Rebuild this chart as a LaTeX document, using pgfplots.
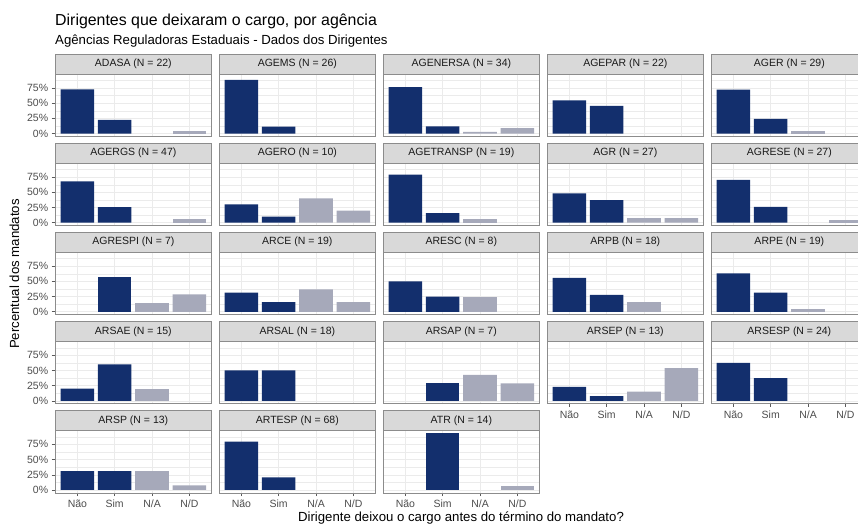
\documentclass[border=0pt]{standalone}
\usepackage{fontspec}
\setmainfont{Liberation Sans}
\usepackage{pgfplots}
\pgfplotsset{compat=1.18}
\definecolor{navy}{RGB}{19,47,109}
\definecolor{gry}{RGB}{166,169,186}
\definecolor{gridc}{RGB}{235,235,235}
\definecolor{borderc}{RGB}{140,140,140}
\definecolor{stripc}{RGB}{217,217,217}
\definecolor{striptc}{RGB}{26,26,26}
\definecolor{tickc}{RGB}{77,77,77}
\definecolor{tickmc}{RGB}{90,90,90}
\pgfplotsset{
  every axis title shift=0pt,
  panel/.style={scale only axis, width=156.7pt, height=62.1pt, anchor=south west,
    xmin=0.4, xmax=4.6, ymin=-4.65, ymax=97.5,
    xtick={1,2,3,4}, ytick={0,25,50,75}, minor ytick={12.5,37.5,62.5,87.5},
    grid=both, major grid style={line width=0.55pt, color=gridc},
    minor grid style={line width=0.3pt, color=gridc},
    axis line style={draw=borderc, line width=0.6pt},
    tick align=outside, tick pos=left, major tick length=3.3pt, minor tick length=0pt,
    xticklabels={}, yticklabels={},
    xtick style={draw=none}, ytick style={draw=none},
    tick label style={font=\fontsize{10.5}{11}\selectfont, text=tickc},
    title style={at={(0.5,1)}, anchor=south, yshift=0pt, fill=stripc, draw=borderc,
      line width=0.6pt, minimum width=156.7pt, minimum height=20pt, inner sep=0pt,
      font=\fontsize{10.5}{11}\selectfont, text=striptc},
  },
  showx/.style={xticklabels={Não,Sim,N/A,N/D}, xtick style={draw=tickmc, line width=0.55pt}},
  showy/.style={yticklabels={0\%,25\%,50\%,75\%}, ytick style={draw=tickmc, line width=0.55pt}},
}
% #1 x, #2 y, #3 title, #4 Nao, #5 Sim, #6 N/A, #7 N/D, #8 extra options
\newcommand{\panel}[8]{%
\begin{axis}[panel, at={(#1pt,#2pt)}, title={#3}, #8]
\addplot[ybar, bar width=0.9, fill=navy, draw=none, restrict y to domain=0.01:200] coordinates {(1,#4) (2,#5)};
\addplot[ybar, bar width=0.9, fill=gry, draw=none, restrict y to domain=0.01:200] coordinates {(3,#6) (4,#7)};
\end{axis}}
\begin{document}
\begin{tikzpicture}
\path[use as bounding box] (0,0) rectangle (858pt,524pt);
\clip (0,0) rectangle (858pt,524pt);
\node[anchor=base west, inner sep=0pt, font=\fontsize{15.9}{18}\selectfont] at (55pt,498pt) {Dirigentes que deixaram o cargo, por agência};
\node[anchor=base west, inner sep=0pt, font=\fontsize{13.2}{15}\selectfont] at (55pt,479pt) {Agências Reguladoras Estaduais - Dados dos Dirigentes};
\node[anchor=base, inner sep=0pt, font=\fontsize{13.2}{15}\selectfont] at (461pt,3pt) {Dirigente deixou o cargo antes do término do mandato?};
\node[anchor=base, rotate=90, inner sep=0pt, font=\fontsize{13.2}{15}\selectfont] at (19pt,250pt) {Percentual dos mandatos};
% Row 1
\panel{55}{387.6}{ADASA (N = 22)}{72.7}{22.7}{0}{4.5}{showy}
\panel{219}{387.6}{AGEMS (N = 26)}{88.5}{11.5}{0}{0}{}
\panel{383}{387.6}{AGENERSA (N = 34)}{76.5}{11.8}{2.9}{8.8}{}
\panel{547}{387.6}{AGEPAR (N = 22)}{54.5}{45.5}{0}{0}{}
\panel{711}{387.6}{AGER (N = 29)}{72.4}{24.1}{3.4}{0}{}
% Row 2
\panel{55}{298.5}{AGERGS (N = 47)}{68.1}{25.5}{0}{6.4}{showy}
\panel{219}{298.5}{AGERO (N = 10)}{30}{10}{40}{20}{}
\panel{383}{298.5}{AGETRANSP (N = 19)}{78.9}{15.8}{5.3}{0}{}
\panel{547}{298.5}{AGR (N = 27)}{48.1}{37.0}{7.4}{7.4}{}
\panel{711}{298.5}{AGRESE (N = 27)}{70.4}{25.9}{0}{3.7}{}
% Row 3
\panel{55}{209.4}{AGRESPI (N = 7)}{0}{57.1}{14.3}{28.6}{showy}
\panel{219}{209.4}{ARCE (N = 19)}{31.6}{15.8}{36.8}{15.8}{}
\panel{383}{209.4}{ARESC (N = 8)}{50}{25}{25}{0}{}
\panel{547}{209.4}{ARPB (N = 18)}{55.6}{27.8}{16.7}{0}{}
\panel{711}{209.4}{ARPE (N = 19)}{63.2}{31.6}{5.3}{0}{}
% Row 4
\panel{55}{120.3}{ARSAE (N = 15)}{20}{60}{20}{0}{showy}
\panel{219}{120.3}{ARSAL (N = 18)}{50}{50}{0}{0}{}
\panel{383}{120.3}{ARSAP (N = 7)}{0}{28.6}{42.9}{28.6}{}
\panel{547}{120.3}{ARSEP (N = 13)}{23.1}{7.7}{15.4}{53.8}{showx}
\panel{711}{120.3}{ARSESP (N = 24)}{62.5}{37.5}{0}{0}{showx}
% Row 5
\panel{55}{31.2}{ARSP (N = 13)}{30.8}{30.8}{30.8}{7.7}{showx,showy}
\panel{219}{31.2}{ARTESP (N = 68)}{79.4}{20.6}{0}{0}{showx}
\panel{383}{31.2}{ATR (N = 14)}{0}{92.9}{0}{7.1}{showx}
\end{tikzpicture}
\end{document}
